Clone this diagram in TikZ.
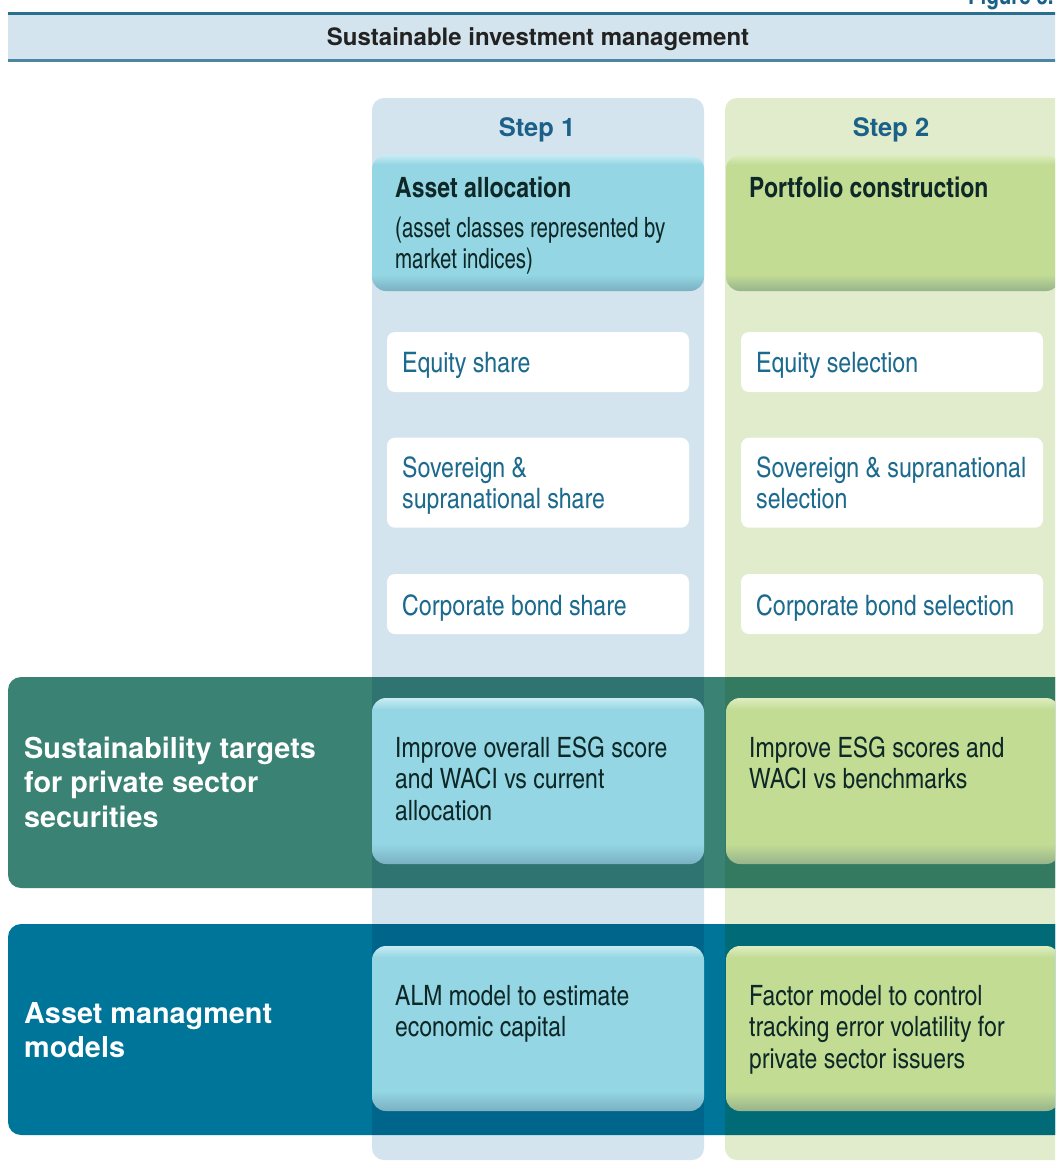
\documentclass[tikz,border=0pt]{standalone}
\usepackage{fontspec}
\setmainfont{TeX Gyre Heros}
\newfontfamily\cnfont[Extension=.otf, UprightFont=texgyreheroscn-regular, BoldFont=texgyreheroscn-bold]{texgyreheroscn}
\newfontfamily\cnnarrow[Extension=.otf, UprightFont=texgyreheroscn-regular, FakeStretch=0.89]{texgyreheroscn}
\definecolor{headfill}{HTML}{D3E4EE}
\definecolor{headline}{HTML}{2B6F8F}
\definecolor{colAfill}{HTML}{D3E4EE}
\definecolor{colBfill}{HTML}{E0ECCB}
\definecolor{bandT}{HTML}{3A8274}
\definecolor{bandTA}{HTML}{2F7470}
\definecolor{bandTB}{HTML}{347A60}
\definecolor{bandB}{HTML}{00759A}
\definecolor{bandBA}{HTML}{00658A}
\definecolor{bandBB}{HTML}{006B76}
\definecolor{bbase}{HTML}{94D6E3}
\definecolor{blight}{HTML}{C8ECF3}
\definecolor{bdark}{HTML}{7AB0C2}
\definecolor{gbase}{HTML}{C2DC94}
\definecolor{glight}{HTML}{DEEDC0}
\definecolor{gdark}{HTML}{97B48C}
\definecolor{steptext}{HTML}{1A6089}
\definecolor{whitetext}{HTML}{1C6A8E}
\definecolor{boxtext}{HTML}{0E2828}
\definecolor{titletext}{HTML}{222222}
\pgfdeclareverticalshading{bshade}{100bp}{color(0bp)=(bdark); color(25bp)=(bdark); color(31bp)=(bbase); color(71.5bp)=(bbase); color(75bp)=(blight); color(100bp)=(blight)}
\pgfdeclareverticalshading{gshade}{100bp}{color(0bp)=(gdark); color(25bp)=(gdark); color(31bp)=(gbase); color(71.5bp)=(gbase); color(75bp)=(glight); color(100bp)=(glight)}
\newcommand\topstrut{\rule{0pt}{23pt}}
\tikzset{
  colone/.style={rectangle, rounded corners=12pt, fill=colAfill, inner sep=0pt},
  coltwo/.style={rectangle, rounded corners=12pt, fill=colBfill, inner sep=0pt},
  bluebox/.style={rectangle, rounded corners=14pt, shading=bshade, inner sep=0pt},
  greenbox/.style={rectangle, rounded corners=14pt, shading=gshade, inner sep=0pt},
  whitebox/.style={rectangle, rounded corners=8pt, fill=white, inner sep=0pt},
  bodytxt/.style={inner sep=0pt, align=left, text=boxtext, font=\cnfont\fontsize{28}{31.7}\selectfont},
  narrowtxt/.style={inner sep=0pt, align=left, text=boxtext, font=\cnnarrow\fontsize{28}{31}\selectfont},
  headtxt/.style={inner sep=0pt, align=left, text=boxtext, font=\cnfont\bfseries\fontsize{28}{31.7}\selectfont},
  wtxt/.style={inner sep=0pt, align=left, text=whitetext, font=\cnfont\fontsize{28.2}{31.5}\selectfont},
  labeltxt/.style={inner sep=0pt, align=left, text=white, font=\bfseries\fontsize{28.8}{34.5}\selectfont},
  steptxt/.style={inner sep=0pt, text=steptext, font=\bfseries\fontsize{25.5}{30}\selectfont},
}
\begin{document}
\begin{tikzpicture}[x=1pt,y=-1pt]
\useasboundingbox (0,0) rectangle (1055,1164);
\clip (0,0) rectangle (1055,1164);
\fill[white] (0,0) rectangle (1055,1164);
% header
\fill[headfill] (8,13) rectangle (1060,61);
\draw[headline, line width=2.6pt] (8,13.3) -- (1060,13.3);
\draw[headline!85!white, line width=2.4pt] (8,60.7) -- (1060,60.7);
\node[inner sep=0pt, anchor=base, text=titletext, font=\bfseries\fontsize{24}{28}\selectfont] (title) at (538,46) {Sustainable investment management};
\node[inner sep=0pt, anchor=base west, text=steptext, font=\cnfont\bfseries\fontsize{25}{28}\selectfont] (fig) at (968,5) {Figure 3.};
% columns
\node[colone, minimum width=332pt, minimum height=1062pt] (c1) at (538,629) {};
\node[coltwo, minimum width=350pt, minimum height=1062pt] (c2) at (900,629) {};
\node[steptxt, anchor=base] (s1) at (537,136) {Step 1};
\node[steptxt, anchor=base] (s2) at (891,136) {Step 2};
% bands
\fill[bandT, rounded corners=13pt] (8,677) rectangle (1075,888);
\fill[bandTA] (372,677) rectangle (704,888);
\fill[bandTB] (725,677) rectangle (1060,888);
\fill[bandB, rounded corners=13pt] (8,924) rectangle (1075,1135);
\fill[bandBA] (372,924) rectangle (704,1135);
\fill[bandBB] (725,924) rectangle (1060,1135);
% top boxes
\node[bluebox, minimum width=332pt, minimum height=136pt] (aa) at (538,223) {};
\node[greenbox, minimum width=334pt, minimum height=136pt] (pc) at (893,223) {};
\node[headtxt, anchor=base west] (aat) at (395,197) {Asset allocation};
\node[narrowtxt, anchor=north west] (aas) at (395,214) {\topstrut(asset classes represented by\\market indices)};
\node[headtxt, anchor=base west] (pct) at (749,197) {Portfolio construction};
% white boxes col 1
\node[whitebox, minimum width=302pt, minimum height=60pt] (eq1) at (538,362) {};
\node[whitebox, minimum width=302pt, minimum height=90pt] (sv1) at (538,482.7) {};
\node[whitebox, minimum width=302pt, minimum height=60pt] (cb1) at (538,604) {};
\node[wtxt, anchor=base west] (eq1t) at (402,372) {Equity share};
\node[wtxt, anchor=north west] (sv1t) at (402,454) {\topstrut Sovereign \&\\supranational share};
\node[wtxt, anchor=base west] (cb1t) at (402,615) {Corporate bond share};
% white boxes col 2
\node[whitebox, minimum width=302pt, minimum height=60pt] (eq2) at (892,362) {};
\node[whitebox, minimum width=302pt, minimum height=90pt] (sv2) at (892,482.7) {};
\node[whitebox, minimum width=302pt, minimum height=60pt] (cb2) at (892,604) {};
\node[wtxt, anchor=base west] (eq2t) at (756,372) {Equity selection};
\node[wtxt, anchor=north west] (sv2t) at (756,454) {\topstrut Sovereign \& supranational\\selection};
\node[wtxt, anchor=base west] (cb2t) at (756,615) {Corporate bond selection};
% row 1
\node[labeltxt, anchor=north west] (l1) at (24,735) {\topstrut Sustainability targets\\for private sector\\securities};
\node[bluebox, minimum width=332pt, minimum height=166pt] (r1a) at (538,781) {};
\node[greenbox, minimum width=334pt, minimum height=166pt] (r1b) at (893,781) {};
\node[bodytxt, anchor=north west] (r1at) at (395,734) {\topstrut Improve overall ESG score\\and WACI vs current\\allocation};
\node[bodytxt, anchor=north west] (r1bt) at (749,734) {\topstrut Improve ESG scores and\\WACI vs benchmarks};
% row 2
\node[labeltxt, anchor=north west] (l2) at (24,1000) {\topstrut Asset managment\\models};
\node[bluebox, minimum width=332pt, minimum height=165pt] (r2a) at (538,1028.5) {};
\node[greenbox, minimum width=334pt, minimum height=165pt] (r2b) at (893,1028.5) {};
\node[bodytxt, anchor=north west] (r2at) at (395,982) {\topstrut ALM model to estimate\\economic capital};
\node[bodytxt, anchor=north west] (r2bt) at (749,982) {\topstrut Factor model to control\\tracking error volatility for\\private sector issuers};
\end{tikzpicture}
\end{document}
